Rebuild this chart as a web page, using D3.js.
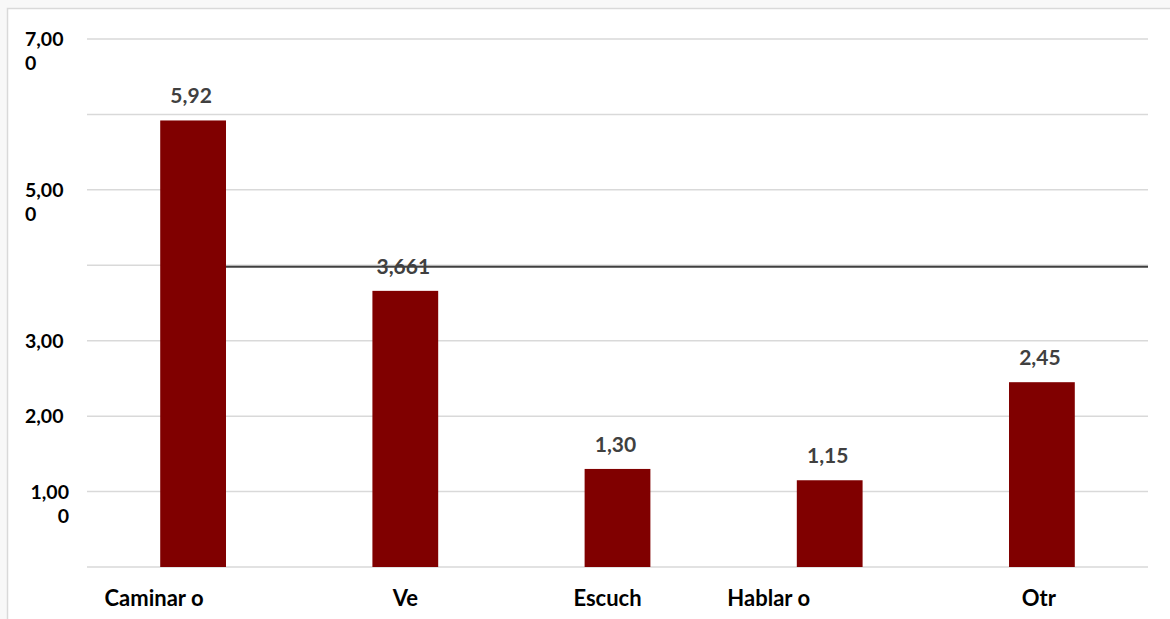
<!DOCTYPE html>
<html><head><meta charset="utf-8">
<script src="https://cdn.jsdelivr.net/npm/d3@7"></script>
<style>
html,body{margin:0;padding:0;background:#f8f8f8;}
svg{display:block;}
text{font-family:Lato,"Open Sans",sans-serif;font-weight:bold;}
</style></head><body>
<svg id="c" width="1170" height="619"></svg>
<script>
// ---- data ----
const categories = ["Caminar o", "Ve", "Escuch", "Hablar o", "Otr"];
const values = [5.92, 3.661, 1.30, 1.15, 2.45];
const valueLabels = ["5,92", "3,661", "1,30", "1,15", "2,45"];
const gridValues = [0, 1, 2, 3, 4, 5, 6, 7];
const tickValues = [1, 2, 3, 5, 7];
const tickLabels = [["1,00", "0"], ["2,00"], ["3,00"], ["5,00", "0"], ["7,00", "0"]];
const refValue = 3.98;

// ---- layout (not data) ----
const labelShift = [-39, 0, -10, -61, -3];
const W = 1170, H = 619;
const plot = {left: 87, right: 1148, top: 39, bottom: 567};

const svg = d3.select("#c");
svg.append("rect").attr("x", 7.5).attr("y", 8.5).attr("width", W + 10).attr("height", H + 10)
  .attr("fill", "#fff").attr("stroke", "#d9d9d9").attr("stroke-width", 1.5);

const x = d3.scaleBand().domain(categories).range([plot.left, plot.right]).paddingInner(0.69).paddingOuter(0.345);
const y = d3.scaleLinear().domain([0, 7]).range([plot.bottom, plot.top]);

// gridlines
svg.append("g").selectAll("line").data(gridValues).join("line")
  .attr("x1", plot.left).attr("x2", plot.right)
  .attr("y1", d => y(d)).attr("y2", d => y(d))
  .attr("stroke", "#d9d9d9").attr("stroke-width", 1.5);

// y tick labels
const yl = svg.append("g");
tickValues.forEach((v, i) => {
  const lines = tickLabels[i];
  const isOne = v === 1;
  const t = yl.append("text").attr("font-size", 19.5).attr("fill", "#000")
    .attr("text-anchor", isOne ? "end" : "start")
    .attr("y", y(v) + 7);
  lines.forEach((s, j) => {
    t.append("tspan").attr("x", isOne ? 69 : 25).attr("dy", j === 0 ? 0 : 24).text(s);
  });
});

// reference line
svg.append("line")
  .attr("x1", x(categories[0]) + x.bandwidth()).attr("x2", plot.right)
  .attr("y1", y(refValue)).attr("y2", y(refValue))
  .attr("stroke", "#404040").attr("stroke-width", 2);

// bars
svg.append("g").selectAll("rect").data(values).join("rect")
  .attr("x", (d, i) => x(categories[i]))
  .attr("width", x.bandwidth())
  .attr("y", d => y(d))
  .attr("height", d => y(0) - y(d))
  .attr("fill", "#800000");

// value labels
svg.append("g").selectAll("text").data(values).join("text")
  .attr("x", (d, i) => x(categories[i]) + x.bandwidth() / 2 - 2)
  .attr("y", d => y(d) - 17)
  .attr("text-anchor", "middle").attr("font-size", 21).attr("fill", "#404040")
  .text((d, i) => valueLabels[i]);

// category labels
svg.append("g").selectAll("text").data(categories).join("text")
  .attr("x", (d, i) => x(d) + x.bandwidth() / 2 + labelShift[i])
  .attr("y", 606)
  .attr("text-anchor", "middle").attr("font-size", 22).attr("fill", "#000")
  .text(d => d);
</script>
</body></html>
